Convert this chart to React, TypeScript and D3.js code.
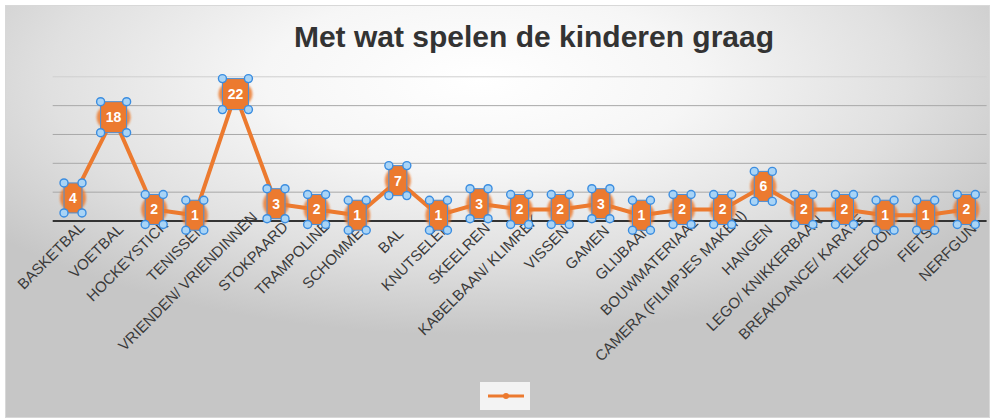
import React from "react";
import * as d3 from "d3";

const title = "Met wat spelen de kinderen graag";
const categories = [
  "BASKETBAL", "VOETBAL", "HOCKEYSTICK", "TENISSEN", "VRIENDEN/ VRIENDINNEN",
  "STOKPAARD", "TRAMPOLINE", "SCHOMMEL", "BAL", "KNUTSELEN", "SKEELREN",
  "KABELBAAN/ KLIMREK", "VISSEN", "GAMEN", "GLIJBAAN", "BOUWMATERIAAL",
  "CAMERA (FILMPJES MAKEN)", "HANGEN", "LEGO/ KNIKKERBAAN", "BREAKDANCE/ KARATE",
  "TELEFOON", "FIETS", "NERFGUN",
];
const values = [4, 18, 2, 1, 22, 3, 2, 1, 7, 1, 3, 2, 2, 3, 1, 2, 2, 6, 2, 2, 1, 1, 2];
const yTicks = [5, 10, 15, 20, 25];

const W = 995;
const H = 419;
const FONT = '"Liberation Sans", Helvetica, Arial, sans-serif';
const ORANGE = "#EC7A2F";
const LABEL_SIZE = 15;

function measure(text: string, font: string): number {
  const c = document.createElement("canvas").getContext("2d");
  if (!c) return text.length * 9;
  c.font = font;
  return c.measureText(text).width;
}

export default function App() {
  const x = d3.scaleBand<string>().domain(categories).range([52.7, 986.6]).padding(0);
  const cx = (c: string) => (x(c) as number) + x.bandwidth() / 2;
  const y = d3.scaleLinear().domain([0, 25]).range([221, 76.8]);

  const line = d3
    .line<number>()
    .x((_, i) => cx(categories[i]))
    .y((d) => y(d));

  const handle = (hx: number, hy: number, k: string) => (
    <circle key={k} cx={hx} cy={hy} r={4} fill="#a9d4f6" stroke="#3b8de0" strokeWidth={1.4} />
  );

  return (
    <svg
      width={W}
      height={H}
      style={{ position: "absolute", left: 0, top: 0, background: "#fff" }}
      fontFamily={FONT}
    >
      <defs>
        <radialGradient id="bg" cx="0.48" cy="0.18" r="0.62" fx="0.48" fy="0.18">
          <stop offset="0" stopColor="#ffffff" />
          <stop offset="0.35" stopColor="#f6f6f6" />
          <stop offset="0.7" stopColor="#e0e0e0" />
          <stop offset="1" stopColor="#c6c6c6" />
        </radialGradient>
        <filter id="blur" x="-50%" y="-50%" width="200%" height="200%">
          <feGaussianBlur stdDeviation="1.1" />
        </filter>
      </defs>
      <rect x={5.5} y={5.5} width={984} height={412} fill="url(#bg)" stroke="#d8d8d8" strokeWidth={1} />

      <text x={534} y={47} textAnchor="middle" fontSize={30} fontWeight="bold" fill="#333">
        {title}
      </text>

      {yTicks.map((t) => (
        <line
          key={t}
          x1={52.7}
          x2={986.6}
          y1={y(t)}
          y2={y(t)}
          stroke={t === 25 ? "#cfcfcf" : "#a8a8a8"}
          strokeWidth={1}
        />
      ))}
      <line x1={52.7} x2={986.6} y1={y(0)} y2={y(0)} stroke="#333" strokeWidth={2} />

      {categories.map((c) => {
        const L = measure(c, `${LABEL_SIZE}px ${FONT}`);
        const u = -8.8 + 0.143 * L;
        return (
          <g key={c} transform={`translate(${cx(c)},${y(0)}) rotate(-45)`}>
            <text x={u} y={14} textAnchor="end" fontSize={LABEL_SIZE} fill="#3a3a3a">
              {c}
            </text>
          </g>
        );
      })}

      <path d={line(values) || ""} fill="none" stroke={ORANGE} strokeWidth={4} strokeLinejoin="round" />

      {values.map((v, i) => {
        const px = cx(categories[i]);
        const py = y(v);
        const s = String(v);
        const w = s.length > 1 ? 26 : 18;
        const h = s.length > 1 ? 31 : 30;
        return (
          <g key={i}>
            <ellipse cx={px} cy={py} rx={w / 2 + 4} ry={14} fill={ORANGE} opacity={0.85} filter="url(#blur)" />
            <rect x={px - w / 2} y={py - h / 2} width={w} height={h} rx={5} fill={ORANGE} />
            <rect x={px - w / 2} y={py - h / 2} width={w} height={h} fill="none" stroke="#4a8fd8" strokeWidth={1} />
            <text x={px} y={py + 5} textAnchor="middle" fontSize={14} fontWeight="bold" fill="#fff">
              {s}
            </text>
            {handle(px - w / 2, py - h / 2, "a")}
            {handle(px + w / 2, py - h / 2, "b")}
            {handle(px - w / 2, py + h / 2, "c")}
            {handle(px + w / 2, py + h / 2, "d")}
          </g>
        );
      })}

      <rect x={480} y={382} width={50} height={28} fill="#f3f3f3" />
      <line x1={488} x2={524} y1={396} y2={396} stroke={ORANGE} strokeWidth={3} />
      <circle cx={506} cy={396} r={3} fill={ORANGE} />
    </svg>
  );
}
